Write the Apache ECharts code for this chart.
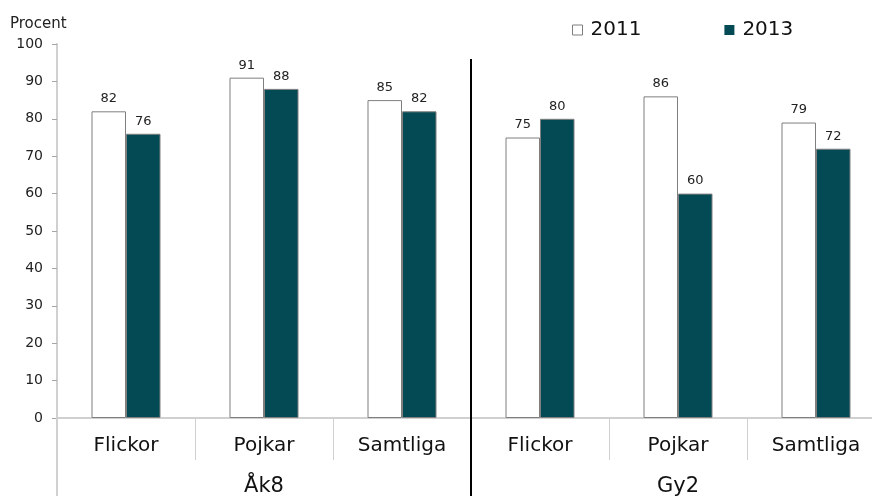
<!DOCTYPE html>
<html>
<head>
<meta charset="utf-8">
<script src="https://cdn.jsdelivr.net/npm/echarts@6/dist/echarts.min.js"></script>
<style>
  html, body { margin: 0; padding: 0; background: #fff; }
  #app { width: 872px; height: 496px; }
</style>
</head>
<body>
<div id="app"></div>
<script>
var categories = ['Flickor', 'Pojkar', 'Samtliga', 'Flickor', 'Pojkar', 'Samtliga'];
var groups = ['Åk8', 'Gy2'];
var years = ['2011', '2013'];
var values2011 = [82, 91, 85, 75, 86, 79];
var values2013 = [76, 88, 82, 80, 60, 72];

var font = 'DejaVu Sans';
var lightGray = '#d0d0d0';

var myChart = echarts.init(document.getElementById('app'));

var option = {
    animation: false,
    textStyle: { fontFamily: font },
    title: {
        text: 'Procent',
        left: 5,
        top: 12,
        textStyle: { fontFamily: font, fontSize: 15, fontWeight: 'normal', color: '#222' }
    },
    legend: {
        top: 15,
        left: 567,
        itemWidth: 10,
        itemHeight: 10,
        itemGap: 83,
        textStyle: { fontFamily: font, fontSize: 20, color: '#111', padding: [0, 0, 0, 3] },
        data: [
            { name: '2011', icon: 'rect', itemStyle: { color: '#fff', borderColor: '#7f7f7f', borderWidth: 1 } },
            { name: '2013', icon: 'rect', itemStyle: { color: '#034a55', borderColor: '#7f7f7f', borderWidth: 0 } }
        ]
    },
    grid: {
        left: 57,
        top: 44,
        bottom: 78,
        width: 828,
        outerBoundsMode: 'none',
        containLabel: false
    },
    xAxis: [
        {
            type: 'category',
            data: categories,
            axisLine: { lineStyle: { color: lightGray, width: 2 } },
            axisTick: { show: true, interval: 0, length: 42, lineStyle: { color: lightGray, width: 1 } },
            axisLabel: { interval: 0, fontSize: 20, color: '#111', margin: 18 }
        },
        {
            // group labels + black divider below the axis
            type: 'category',
            data: groups,
            position: 'bottom',
            axisLine: { show: false },
            axisTick: { show: true, length: 78, lineStyle: { color: '#000', width: 2 } },
            axisLabel: { fontSize: 21, color: '#111', margin: 58 }
        },
        {
            // light extension of the y axis down to the bottom
            type: 'category',
            data: ['all'],
            position: 'bottom',
            axisLine: { show: false },
            axisTick: { show: true, length: 78, lineStyle: { color: lightGray, width: 2 } },
            axisLabel: { show: false }
        },
        {
            type: 'value',
            min: 0,
            max: 6,
            show: false
        }
    ],
    yAxis: {
        type: 'value',
        min: 0,
        max: 100,
        interval: 10,
        axisLine: { show: true, lineStyle: { color: lightGray, width: 2 } },
        axisTick: { show: true, length: 5, lineStyle: { color: '#a6a6a6' } },
        axisLabel: { fontSize: 14, color: '#222', margin: 14 },
        splitLine: { show: false }
    },
    series: [
        {
            name: years[0],
            type: 'bar',
            xAxisIndex: 0,
            data: values2011,
            barWidth: '25%',
            barGap: '0%',
            itemStyle: { color: '#fff', borderColor: '#7f7f7f', borderWidth: 1 },
            label: { show: true, position: 'top', distance: 6, fontSize: 13, color: '#222' }
        },
        {
            name: years[1],
            type: 'bar',
            xAxisIndex: 0,
            data: values2013,
            barWidth: '25%',
            barGap: '0%',
            itemStyle: { color: '#034a55', borderColor: '#7f7f7f', borderWidth: 1 },
            label: { show: true, position: 'top', distance: 6, fontSize: 13, color: '#222' }
        },
        {
            // group divider between Åk8 and Gy2
            type: 'line',
            xAxisIndex: 3,
            data: [],
            silent: true,
            markLine: {
                silent: true,
                symbol: 'none',
                label: { show: false },
                lineStyle: { color: '#000', width: 2, type: 'solid' },
                data: [[{ coord: [3, 96] }, { coord: [3, 0] }]]
            }
        }
    ]
};

myChart.setOption(option);
</script>
</body>
</html>
